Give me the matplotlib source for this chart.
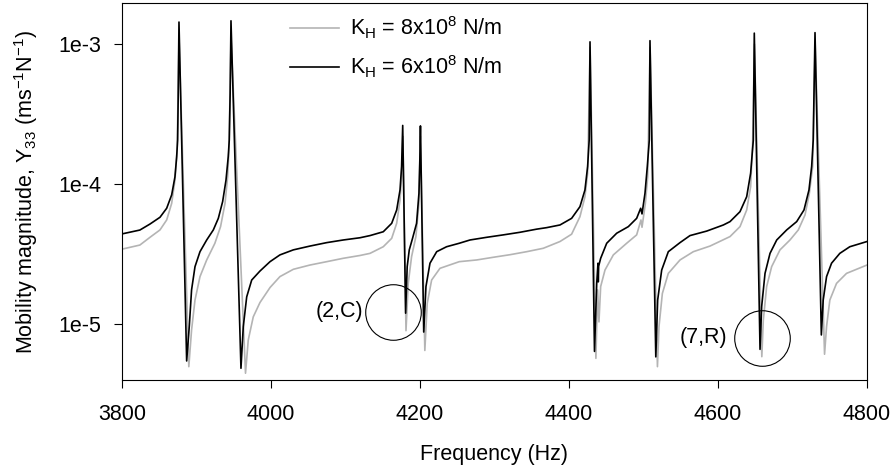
import matplotlib
matplotlib.use("Agg")
import matplotlib.pyplot as plt
from matplotlib.ticker import FixedLocator, FixedFormatter, NullLocator

plt.rcParams['font.family'] = ['Liberation Sans', 'DejaVu Sans']
plt.rcParams['mathtext.default'] = 'regular'

# mobility |Y33| in m s^-1 N^-1, K_H = 6e8 N/m
freq_6 = [3800, 3824, 3837.6, 3851, 3860, 3866.7, 3871.1, 3873.4, 3874.7, 3875.4, 3876.5,
          3886.8, 3890.3, 3893.4, 3898, 3904.7, 3913.7, 3922.6, 3929.3, 3935.1, 3939.6, 3942.6,
          3944, 3945.2, 3946.3,
          3959.7, 3962.8, 3967.4, 3974.1, 3985.2, 3998.7, 4012, 4030, 4052.4, 4074.8, 4097, 4119.5,
          4132.9, 4150.7, 4162, 4168.7, 4173.2, 4175.3, 4176.8,
          4180.7, 4182.8, 4185.6, 4190, 4195.4, 4198.6, 4199.8, 4200.6,
          4205.0, 4208, 4213.4, 4222.4, 4235.7, 4252.7, 4267.1, 4289.5, 4311.8, 4334.2, 4356.6,
          4370, 4387.9, 4403.5, 4414.7, 4421.4, 4425, 4427.1, 4428.2,
          4434.2, 4437.2, 4438.9, 4439.3, 4439.8, 4442.5, 4450.6, 4464, 4479.6, 4490.8,
          4496.2, 4498, 4502, 4505.1, 4507.8, 4508.7,
          4516.5, 4519, 4524.4, 4533.3, 4549, 4562.4, 4584.8, 4607.2, 4616.1, 4629.5, 4638.5,
          4643.8, 4647.4, 4648.7,
          4656.4, 4658.6, 4663.1, 4669.8, 4678.8, 4692.2, 4705.6, 4715.4, 4722.1, 4725.7, 4727.8,
          4730.2,
          4738.7, 4741.2, 4745.7, 4752.4, 4763.5, 4776.9, 4800]
mob_6 = [4.42e-5, 4.71e-5, 5.2e-5, 5.81e-5, 6.74e-5, 8.4e-5, 1.13e-4, 1.57e-4, 2.07e-4, 4.0e-4, 1.44e-3,
         5.47e-6, 9.62e-6, 1.76e-5, 2.58e-5, 3.3e-5, 4.0e-5, 4.72e-5, 5.71e-5, 7.52e-5, 1.07e-4, 1.57e-4,
         2.07e-4, 4.5e-4, 1.47e-3,
         4.85e-6, 9.62e-6, 1.57e-5, 2.07e-5, 2.4e-5, 2.8e-5, 3.13e-5, 3.4e-5, 3.62e-5, 3.83e-5, 4.0e-5, 4.15e-5,
         4.3e-5, 4.58e-5, 5.26e-5, 6.55e-5, 9.1e-5, 1.34e-4, 2.63e-4,
         1.2e-5, 2.58e-5, 3.4e-5, 4.11e-5, 5.26e-5, 8.63e-5, 1.5e-4, 2.61e-4,
         8.8e-6, 1.86e-5, 2.73e-5, 3.3e-5, 3.58e-5, 3.79e-5, 4.0e-5, 4.18e-5, 4.35e-5, 4.54e-5, 4.78e-5,
         4.9e-5, 5.12e-5, 5.71e-5, 6.92e-5, 9.1e-5, 1.34e-4, 2.07e-4, 1.04e-3,
         6.4e-6, 1.96e-5, 2.73e-5, 2.01e-5, 2.6e-5, 2.96e-5, 3.79e-5, 4.47e-5, 4.98e-5, 5.71e-5,
         6.74e-5, 6.14e-5, 8.63e-5, 1.34e-4, 2.07e-4, 1.06e-3,
         5.85e-6, 1.49e-5, 2.44e-5, 3.3e-5, 3.83e-5, 4.3e-5, 4.63e-5, 5.12e-5, 5.41e-5, 6.37e-5, 8.15e-5,
         1.2e-4, 2.07e-4, 1.2e-3,
         6.62e-6, 1.34e-5, 2.31e-5, 3.21e-5, 4.0e-5, 4.72e-5, 5.41e-5, 6.55e-5, 9.1e-5, 1.34e-4, 2.07e-4,
         1.21e-3,
         8.39e-6, 1.49e-5, 2.19e-5, 2.73e-5, 3.21e-5, 3.58e-5, 3.9e-5]

# K_H = 8e8 N/m
freq_8 = [3800, 3824, 3837.6, 3851, 3860, 3866.7, 3871.1, 3874, 3876.6,
          3889.7, 3893.4, 3898, 3904.7, 3913.7, 3924.7, 3932.3, 3938.3, 3941.8, 3943.6, 3946.4,
          3965.8, 3969.5, 3976.2, 3985.2, 3998.7, 4012, 4030, 4052.4, 4074.8, 4097, 4119.5,
          4132.9, 4150.7, 4162, 4168.7, 4173.2, 4175.9, 4177.0,
          4181.2, 4184.2, 4188.7, 4194.5, 4198.6, 4200.6,
          4206.5, 4209.7, 4215.6, 4226.8, 4252.7, 4276.1, 4298.4, 4320.8, 4343.2, 4365.5,
          4387.9, 4403.5, 4414.7, 4421.4, 4425, 4428.3,
          4436.1, 4438.4, 4440.2, 4442.5, 4448.3, 4459.5, 4477.4, 4490.8, 4496.6, 4498,
          4502.5, 4505.6, 4508.8,
          4518.7, 4520.8, 4525.3, 4533.3, 4549, 4566.9, 4589.3, 4616.1, 4629.5, 4638.5, 4643.8,
          4646.5, 4648.9,
          4658.8, 4660.8, 4665.3, 4672, 4683.2, 4696.6, 4707.8, 4716.8, 4722.6, 4727.1, 4730.4,
          4743, 4745.7, 4750.1, 4759.1, 4772.5, 4800]
mob_8 = [3.44e-5, 3.68e-5, 4.18e-5, 4.72e-5, 5.56e-5, 7.31e-5, 1.07e-4, 1.76e-4, 1.1e-3,
         4.98e-6, 9.1e-6, 1.49e-5, 2.19e-5, 2.88e-5, 3.79e-5, 4.98e-5, 7.31e-5, 1.13e-4, 1.76e-4, 1.1e-3,
         4.47e-6, 7.73e-6, 1.13e-5, 1.43e-5, 1.83e-5, 2.19e-5, 2.47e-5, 2.65e-5, 2.8e-5, 2.96e-5, 3.1e-5,
         3.21e-5, 3.58e-5, 4.11e-5, 5.26e-5, 7.73e-5, 1.26e-4, 2.2e-4,
         9.0e-6, 1.96e-5, 3.04e-5, 4.23e-5, 7.31e-5, 2.2e-4,
         6.5e-6, 1.41e-5, 2.07e-5, 2.51e-5, 2.8e-5, 2.88e-5, 3.01e-5, 3.14e-5, 3.3e-5, 3.49e-5,
         3.9e-5, 4.4e-5, 5.87e-5, 8.15e-5, 1.2e-4, 9.5e-4,
         5.71e-6, 1.76e-5, 1.04e-5, 1.86e-5, 2.44e-5, 3.13e-5, 3.79e-5, 4.35e-5, 5.56e-5, 4.93e-5,
         7.31e-5, 1.13e-4, 9.5e-4,
         4.98e-6, 9.62e-6, 1.66e-5, 2.31e-5, 2.88e-5, 3.3e-5, 3.62e-5, 4.23e-5, 4.98e-5, 6.55e-5, 9.62e-5,
         2.0e-4, 1.0e-3,
         5.87e-6, 1.07e-5, 1.86e-5, 2.58e-5, 3.4e-5, 4.0e-5, 4.72e-5, 6.04e-5, 8.63e-5, 1.34e-4, 1.0e-3,
         6.11e-6, 9.62e-6, 1.49e-5, 1.96e-5, 2.31e-5, 2.65e-5]

labels = ['K$_H$ = 8x10$^8$ N/m', 'K$_H$ = 6x10$^8$ N/m']

# circled modes
mode_names = ['(2,C)', '(7,R)']
mode_freq = [4164.2, 4658.6]
mode_mob = [1.23e-5, 8.0e-6]
mode_text_dx = [-22, -25]

x_ticks = [3800, 4000, 4200, 4400, 4600, 4800]
y_ticks = [1e-5, 1e-4, 1e-3]
y_tick_labels = ['1e-5', '1e-4', '1e-3']

fig = plt.figure(figsize=(8.93, 4.71), dpi=100)
ax = fig.add_axes([0.1366, 0.1932, 0.8343, 0.8004])

ax.semilogy(freq_8, mob_8, color='#b4b4b4', lw=1.2, label=labels[0])
ax.semilogy(freq_6, mob_6, color='black', lw=1.2, label=labels[1])

ax.set_xlim(3800, 4800)
ax.set_ylim(4.0e-6, 1.97e-3)

for name, f, m, dx in zip(mode_names, mode_freq, mode_mob, mode_text_dx):
    ax.plot([f], [m], marker='o', ms=40, mfc='none', mec='black', mew=0.8, ls='none')
    ax.annotate(name, (f, m), xytext=(dx, 0), textcoords='offset points',
                ha='right', va='center', fontsize=15.5)

ax.set_xticks(x_ticks)
ax.xaxis.set_minor_locator(NullLocator())
ax.yaxis.set_major_locator(FixedLocator(y_ticks))
ax.yaxis.set_major_formatter(FixedFormatter(y_tick_labels))
ax.yaxis.set_minor_locator(NullLocator())
ax.tick_params(axis='both', direction='out', length=6, width=0.8, labelsize=15.5)
ax.tick_params(axis='x', pad=11)
ax.tick_params(axis='y', pad=9)

for s in ax.spines.values():
    s.set_linewidth(0.8)

ax.set_xlabel('Frequency (Hz)', fontsize=15.5, labelpad=14)
ax.set_ylabel('Mobility magnitude, Y$_{33}$ (ms$^{-1}$N$^{-1}$)', fontsize=15.5, labelpad=13)

ax.legend(loc='upper left', bbox_to_anchor=(0.199, 1.021), frameon=False, fontsize=15.5,
          handlelength=2.3, handletextpad=0.5, labelspacing=0.6)

fig.savefig('out.png', dpi=100)
